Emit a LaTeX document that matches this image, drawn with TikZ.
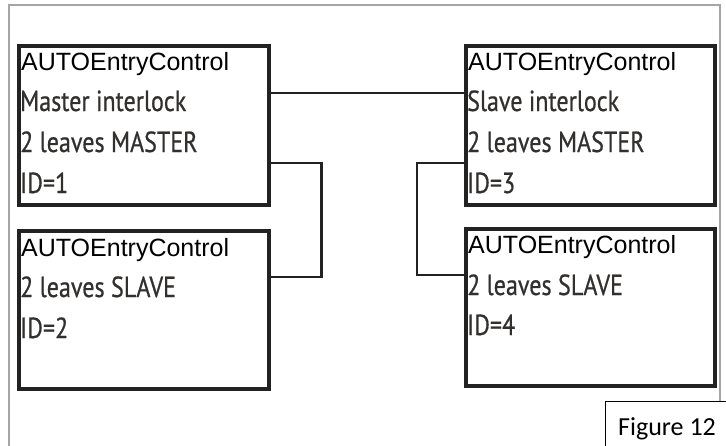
\documentclass[tikz,border=0pt]{standalone}
\usepackage{fontspec}
\setmainfont{Liberation Sans}
\newfontfamily\narrowfont[FakeStretch=0.83, FakeBold=0.6]{PT Sans}
\newfontfamily\figfont{Carlito}
\usetikzlibrary{positioning,calc}

\definecolor{boxgray}{RGB}{34,34,34}
\definecolor{txtgray}{RGB}{50,48,46}
\definecolor{framegray}{RGB}{165,165,165}

\begin{document}
\begin{tikzpicture}[x=1pt, y=-1pt,
    unit/.style={draw=boxgray, line width=3.5pt, anchor=north west, inner sep=0pt},
    wire/.style={draw=boxgray, line width=2.8pt},
    head/.style={anchor=base west, inner sep=0pt, font=\fontsize{25}{25}\selectfont},
    info/.style={anchor=base west, inner sep=0pt, text=txtgray, font=\narrowfont\fontsize{29}{29}\selectfont}]
    \useasboundingbox (0, 0) rectangle (726, 445);

    % outer frame
    \draw[framegray, line width=1.5pt] (9, 460) -- (9, 5) -- (720, 5) -- (720, 460);

    % the four controllers
    \node[unit, minimum width=250pt, minimum height=159pt] (b1) at (17, 44) {};
    \node[unit, minimum width=250pt, minimum height=158pt] (b2) at (17, 229) {};
    \node[unit, minimum width=249pt, minimum height=159pt] (b3) at (464, 44) {};
    \node[unit, minimum width=249pt, minimum height=157pt] (b4) at (464, 227) {};

    \node[head] (b1l1) at ([shift={(4, 26)}]b1.north west) {AUTOEntryControl};
    \node[info] (b1l2) at ([shift={(3, 67)}]b1.north west) {Master interlock};
    \node[info] (b1l3) at ([shift={(3, 108)}]b1.north west) {2 leaves MASTER};
    \node[info] (b1l4) at ([shift={(3, 149)}]b1.north west) {ID=1};

    \node[head] (b2l1) at ([shift={(4, 27)}]b2.north west) {AUTOEntryControl};
    \node[info] (b2l2) at ([shift={(3, 68)}]b2.north west) {2 leaves SLAVE};
    \node[info] (b2l3) at ([shift={(3, 109)}]b2.north west) {ID=2};

    \node[head] (b3l1) at ([shift={(4, 26)}]b3.north west) {AUTOEntryControl};
    \node[info] (b3l2) at ([shift={(3, 67)}]b3.north west) {Slave interlock};
    \node[info] (b3l3) at ([shift={(3, 108)}]b3.north west) {2 leaves MASTER};
    \node[info] (b3l4) at ([shift={(3, 149)}]b3.north west) {ID=3};

    \node[head] (b4l1) at ([shift={(4, 26)}]b4.north west) {AUTOEntryControl};
    \node[info] (b4l2) at ([shift={(3, 68)}]b4.north west) {2 leaves SLAVE};
    \node[info] (b4l3) at ([shift={(3, 108)}]b4.north west) {ID=4};

    % links
    \draw[wire] ([yshift=-49pt]b1.north east) -- ([yshift=-49pt]b3.north west);
    \draw[wire] ([yshift=-119pt]b1.north east) -- ++(51, 0) |- ([yshift=-48pt]b2.north east);
    \draw[wire] ([yshift=-119pt]b3.north west) -- ++(-47, 0) |- ([yshift=-48pt]b4.north west);

    % caption box
    \node[draw=black, fill=white, line width=1.2pt, anchor=north west, minimum width=140pt, minimum height=60pt] (fig) at (605, 401) {};
    \node[anchor=base west, inner sep=0pt, font=\figfont\fontsize{26}{26}\selectfont] (figl) at ([shift={(13, 34)}]fig.north west) {Figure 12};
\end{tikzpicture}
\end{document}
